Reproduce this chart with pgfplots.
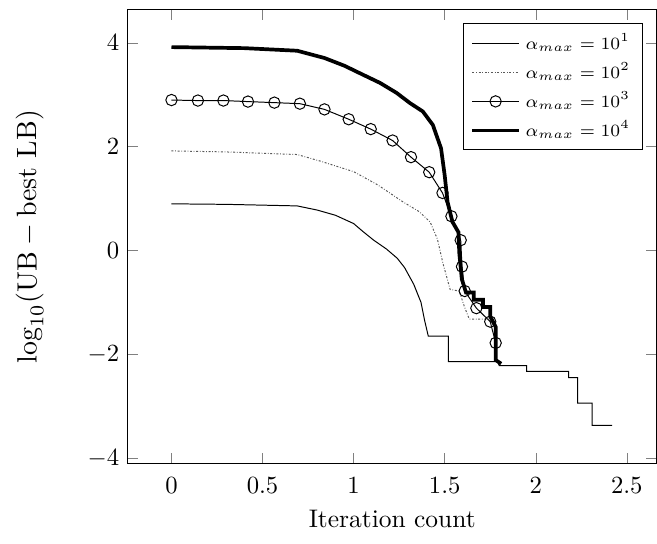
\documentclass[border=0pt]{standalone}
\usepackage{graphicx}
\usepackage{pgfplots}
\pgfplotsset{compat=1.18}
\begin{document}
\begin{tikzpicture}
\begin{axis}[
    scale only axis,
    width=214pt,
    height=184pt,
    xmin=-0.239, xmax=2.663,
    ymin=-4.11, ymax=4.647,
    xtick={0,0.5,1,1.5,2,2.5},
    ytick={-4,-2,0,2,4},
    xticklabel shift=2pt,
    xlabel={\scalebox{1.03}{Iteration count}},
    ylabel={\scalebox{1.13}{$\log_{10}(\mathrm{UB}-\mbox{best LB})$}},
    ylabel shift=11pt,
    legend style={at={(0.974,0.969)}, anchor=north east,
        cells={anchor=west}, font=\fontsize{7.2}{8.6}\selectfont},
    legend image code/.code={
        \draw[mark repeat=2,mark phase=2,#1]
        plot coordinates {(0cm,0cm) (0.33cm,0cm) (0.66cm,0cm)};},
    clip=false
]

% --- alpha_max = 10^1 ---
\addplot[black, thin] coordinates {
    (0,0.90) (0.30,0.89) (0.69,0.86) (0.80,0.78) (0.90,0.68) (1.00,0.52)
    (1.05,0.37) (1.11,0.20) (1.18,0.03) (1.24,-0.15) (1.28,-0.33)
    (1.33,-0.65) (1.37,-1.00) (1.39,-1.35) (1.41,-1.65) (1.52,-1.65)
    (1.52,-2.14) (1.79,-2.14) (1.80,-2.22) (1.95,-2.22) (1.95,-2.33)
    (2.18,-2.33) (2.18,-2.45) (2.23,-2.45) (2.23,-2.94) (2.31,-2.94)
    (2.31,-3.37) (2.42,-3.37)
};
\addlegendentry{$\alpha_{max} = 10^1$}

% --- alpha_max = 10^2 ---
\addplot[black!65, thin, dash pattern=on 0.8pt off 0.7pt on 0.3pt off 0.7pt] coordinates {
    (0,1.92) (0.30,1.90) (0.69,1.85) (0.82,1.72) (1.00,1.52) (1.13,1.27)
    (1.27,0.94) (1.36,0.75) (1.42,0.55) (1.46,0.22) (1.49,-0.24)
    (1.53,-0.75) (1.58,-0.78) (1.61,-1.10) (1.635,-1.32) (1.74,-1.32)
    (1.76,-1.40)
};
\addlegendentry{$\alpha_{max} = 10^2$}

% --- alpha_max = 10^3 ---
\addplot[black, thin, mark=o, mark size=2.3pt,
    mark options={fill=white}] coordinates {
    (0,2.90) (0.145,2.89) (0.285,2.89) (0.42,2.87) (0.565,2.85)
    (0.705,2.83) (0.84,2.72) (0.973,2.53) (1.094,2.34) (1.214,2.12)
    (1.315,1.80) (1.415,1.51) (1.488,1.11) (1.537,0.66) (1.588,0.20)
    (1.595,-0.31) (1.61,-0.78) (1.674,-1.11) (1.75,-1.37) (1.78,-1.78)
};
\addlegendentry{$\alpha_{max} = 10^3$}

% --- alpha_max = 10^4 ---
\addplot[black, line width=1.5pt] coordinates {
    (0,3.92) (0.40,3.90) (0.69,3.85) (0.84,3.71) (0.95,3.56) (1.05,3.39)
    (1.145,3.23) (1.235,3.04) (1.31,2.84) (1.38,2.68) (1.435,2.42)
    (1.48,1.97) (1.50,1.45) (1.516,0.93) (1.543,0.55) (1.576,0.35)
    (1.58,-0.04) (1.594,-0.55) (1.617,-0.81) (1.66,-0.81) (1.66,-0.95)
    (1.71,-0.95) (1.71,-1.09) (1.75,-1.09) (1.75,-1.27) (1.78,-1.47)
    (1.78,-2.11) (1.81,-2.18)
};
\addlegendentry{$\alpha_{max} = 10^4$}

\end{axis}
% --- small margins as in the reference ---
\path (current bounding box.south west) ++(-3pt,-2.8pt);
\path (current bounding box.north east) ++(0pt,3.6pt);
\end{tikzpicture}
\end{document}
